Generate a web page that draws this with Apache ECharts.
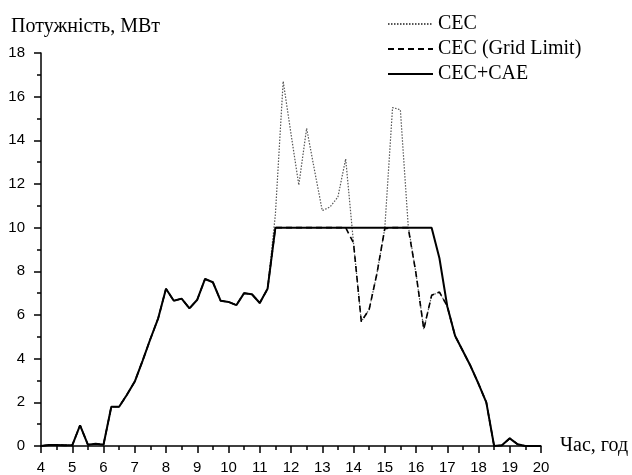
<!DOCTYPE html>
<html>
<head>
<meta charset="utf-8">
<script src="https://cdn.jsdelivr.net/npm/echarts@6/dist/echarts.min.js"></script>
<style>html,body{margin:0;padding:0;background:#fff;}#c{width:632px;height:475px;}</style>
</head>
<body>
<div id="c"></div>
<script>
const hours = [4.00,4.25,4.50,4.75,5.00,5.25,5.50,5.75,6.00,6.25,6.50,6.75,7.00,7.25,7.50,7.75,
  8.00,8.25,8.50,8.75,9.00,9.25,9.50,9.75,10.00,10.25,10.50,10.75,11.00,11.25,11.50,11.75,
  12.00,12.25,12.50,12.75,13.00,13.25,13.50,13.75,14.00,14.25,14.50,14.75,15.00,15.25,15.50,15.75,
  16.00,16.25,16.50,16.75,17.00,17.25,17.50,17.75,18.00,18.25,18.50,18.75,19.00,19.25,19.50,19.75,20.00];

const cec = [0,0.05,0.05,0.03,0.03,0.95,0.06,0.1,0.06,1.8,1.8,2.35,2.95,3.9,4.9,5.85,
  7.2,6.65,6.75,6.3,6.7,7.65,7.5,6.65,6.6,6.45,7.0,6.95,6.55,7.2,10.6,16.7,
  14.3,11.95,14.55,12.65,10.78,10.95,11.4,13.15,9.3,5.7,6.25,7.9,9.95,15.5,15.4,10.1,
  7.9,5.35,6.9,7.05,6.4,5.05,4.35,3.65,2.85,2.0,0,0.03,0.35,0.08,0,0,0];

const cecGridLimit = [0,0.05,0.05,0.03,0.03,0.95,0.06,0.1,0.06,1.8,1.8,2.35,2.95,3.9,4.9,5.85,
  7.2,6.65,6.75,6.3,6.7,7.65,7.5,6.65,6.6,6.45,7.0,6.95,6.55,7.2,10,10,
  10,10,10,10,10,10,10,10,9.3,5.7,6.25,7.9,9.95,10,10,10,
  7.9,5.35,6.9,7.05,6.4,5.05,4.35,3.65,2.85,2.0,0,0.03,0.35,0.08,0,0,0];

const cecCae = [0,0.05,0.05,0.03,0.03,0.95,0.06,0.1,0.06,1.8,1.8,2.35,2.95,3.9,4.9,5.85,
  7.2,6.65,6.75,6.3,6.7,7.65,7.5,6.65,6.6,6.45,7.0,6.95,6.55,7.2,10,10,
  10,10,10,10,10,10,10,10,10,10,10,10,10,10,10,10,
  10,10,10,8.6,6.4,5.05,4.35,3.65,2.85,2.0,0,0.03,0.35,0.08,0,0,0];

const seriesNames = ['CEC', 'CEC (Grid Limit)', 'CEC+CAE'];
const xTitle = 'Час, год';
const yTitle = 'Потужність, МВт';

function pts(arr){ return hours.map((h,i)=>[h, arr[i]]); }

const chart = echarts.init(document.getElementById('c'), null, {renderer:'canvas'});
const axisCommon = {
  axisLine:{show:true, onZero:false, lineStyle:{color:'#000', width:1.5}},
  axisTick:{show:true, inside:false, length:7, lineStyle:{color:'#000', width:1.5}},
  minorTick:{show:true, splitNumber:2, length:4, lineStyle:{color:'#000', width:1.5}},
  axisLabel:{color:'#000', fontFamily:'Liberation Sans, Arial', fontSize:15},
  splitLine:{show:false},
  minorSplitLine:{show:false}
};
chart.setOption({
  animation:false,
  backgroundColor:'#fff',
  grid:{left:41, right:91, top:53, bottom:28, containLabel:false},
  xAxis:Object.assign({}, axisCommon, {
    type:'value', min:4, max:20, interval:1,
    name:xTitle, nameLocation:'end', nameGap:19,
    nameTextStyle:{fontFamily:'Liberation Serif', fontSize:20, color:'#000', verticalAlign:'middle', padding:[6,0,0,0]},
    axisLabel:Object.assign({}, axisCommon.axisLabel, {margin:14})
  }),
  yAxis:Object.assign({}, axisCommon, {
    type:'value', min:0, max:18, interval:2,
    axisLabel:Object.assign({}, axisCommon.axisLabel, {margin:16})
  }),
  legend:{
    orient:'vertical', left:382, top:9, itemWidth:45, itemHeight:14, itemGap:5,
    itemStyle:{opacity:0},
    textStyle:{fontFamily:'Liberation Serif', fontSize:20, color:'#000'},
    data:seriesNames
  },
  graphic:[{type:'text', left:11, top:17, style:{text:yTitle, font:'20px "Liberation Serif"', fill:'#000'}}],
  series:[
    {name:seriesNames[0], type:'line', data:pts(cec), symbol:'none', z:1,
     lineStyle:{color:'#555', width:1.2, type:[1.5,1.5]}, itemStyle:{color:'#555'}},
    {name:seriesNames[1], type:'line', data:pts(cecGridLimit), symbol:'none', z:2,
     lineStyle:{color:'#000', width:1.6, type:[6,4]}, itemStyle:{color:'#000'}},
    {name:seriesNames[2], type:'line', data:pts(cecCae), symbol:'none', z:3,
     lineStyle:{color:'#000', width:2}, itemStyle:{color:'#000'}}
  ]
});
</script>
</body>
</html>
